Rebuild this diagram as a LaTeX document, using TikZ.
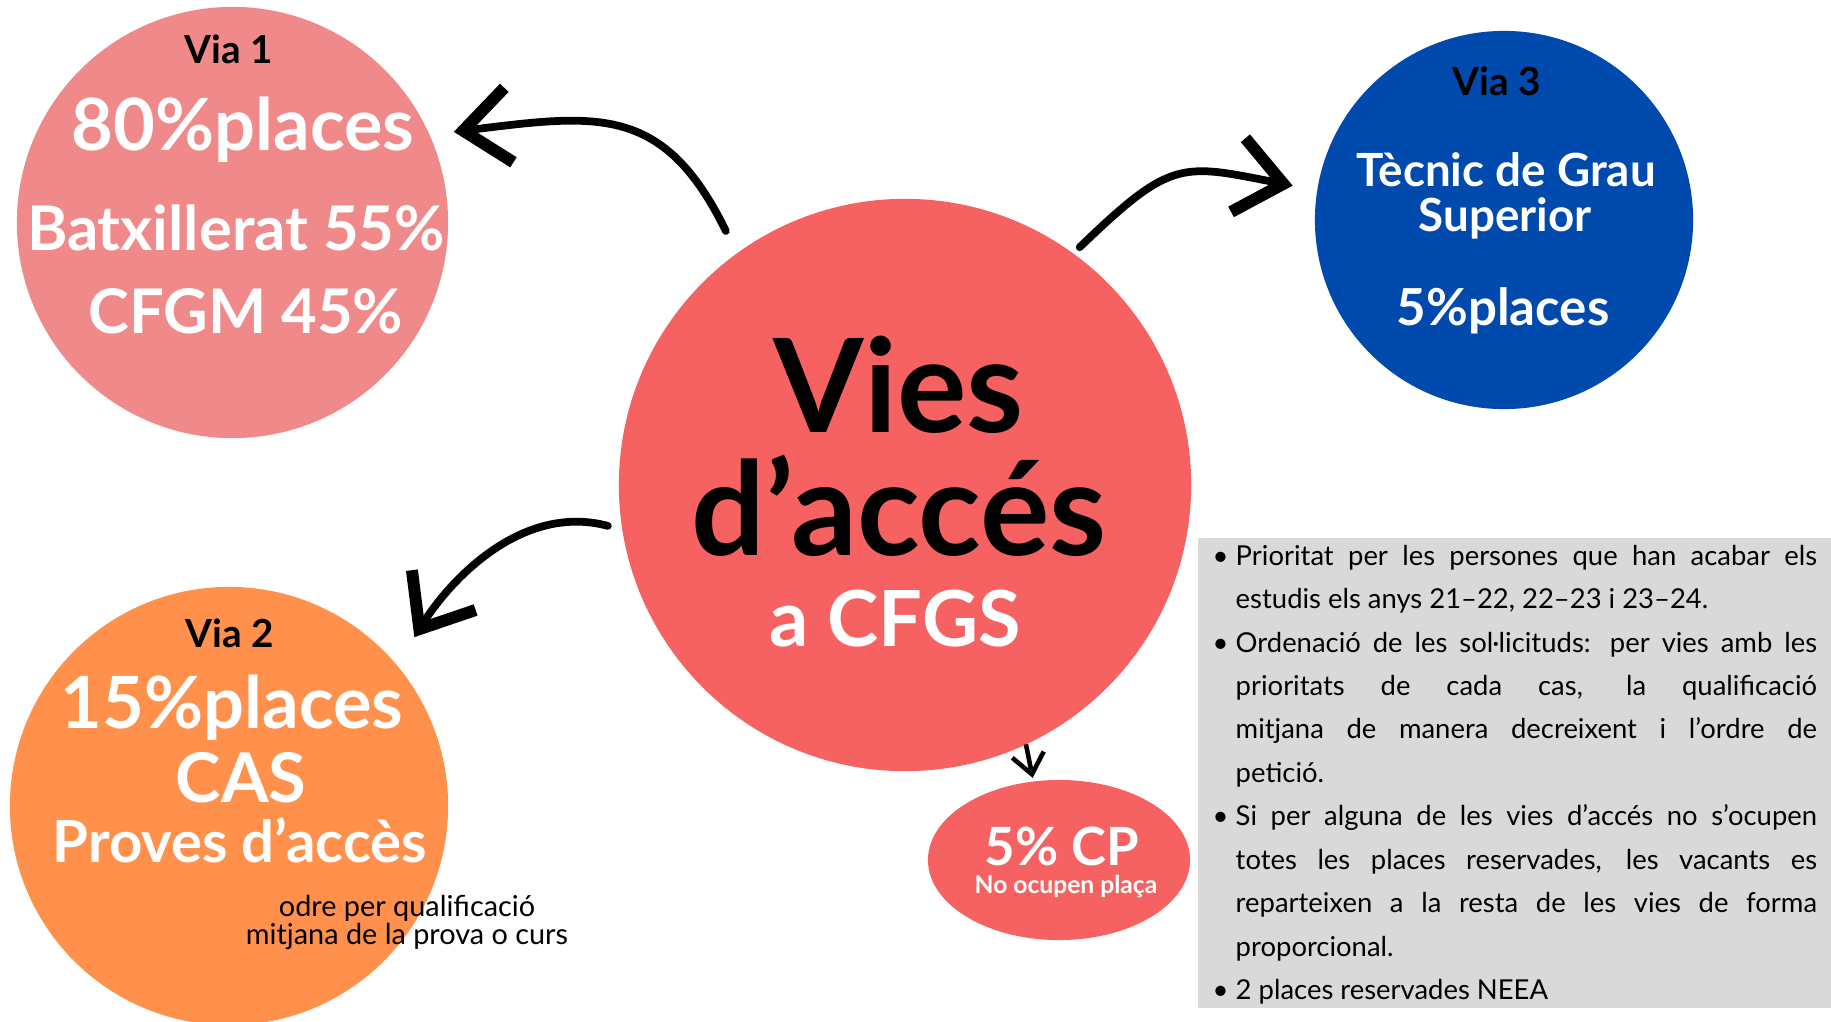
\documentclass[tikz,border=0pt]{standalone}
\usepackage{fontspec}
\setmainfont{Lato}
\usepackage{xcolor}
\usetikzlibrary{arrows.meta,shapes.geometric}
\definecolor{via1}{HTML}{F0898A}
\definecolor{vies}{HTML}{F66262}
\definecolor{via2}{HTML}{FF914D}
\definecolor{via3}{HTML}{004AAD}
\definecolor{nota}{HTML}{D9D9D9}
\newcommand{\fsz}[1]{\fontsize{#1}{#1}\selectfont}
\newcommand{\nitem}{\par\hangindent=0.23cm\hangafter=1\noindent\makebox[0.23cm][l]{\textbullet}}
\tikzset{
    CC/.style ={circle, inner sep=0pt, outer sep=0pt, minimum size=#1},
    VL/.style ={anchor=base, inner sep=0pt, font=\bfseries\fsz{11}},
    WT/.style ={anchor=base, inner sep=0pt, text=white, font=\bfseries\fsz{#1}},
    BT/.style ={anchor=base, inner sep=0pt, font=\fsz{#1}},
    BR/.style ={line width=2.2pt, line cap=round,
        -{Straight Barb[length=4.6mm,width=7.5mm,line width=3.4pt]}}
}

\begin{document}
\begin{tikzpicture}[x=0.01cm, y=0.01cm,
        TL/.style={anchor=base, inner sep=0pt, font=\bfseries\fsz{37}},
        thin arrow/.style={line width=1.3pt, -{Straight Barb[length=2mm,width=3.2mm]}}]
        \useasboundingbox (0,0) rectangle (1831,-1021);
        \clip (0,0) rectangle (1831,-1021);
        % circles
        \node[CC=5.72cm, fill=vies] (cv) at (905,-485) {};
        \node[CC=4.31cm, fill=via1] (v1) at (232.5,-222.5) {};
        \node[CC=3.78cm, fill=via3] (v3) at (1504,-220) {};
        \node[CC=4.38cm, fill=via2] (v2) at (229,-806) {};
        \node[ellipse, fill=vies, inner sep=0pt, minimum width=2.62cm, minimum height=1.6cm] (cp) at (1059,-860) {};
        % centre
        \node[TL] (t1) at (899,-432) {Vies};
        \node[TL] (t2) at (899,-555) {d’accés};
        \node[WT=22] (t3) at (895,-646) {a CFGS};
        % via 1
        \node[VL] (v1t) at (229,-63) {Via 1};
        \node[WT=20.5] (v1a) at (243,-150) {80\%places};
        \node[WT=17.5] (v1b) at (236,-250) {Batxillerat 55\%};
        \node[WT=17.5] (v1c) at (246,-333) {CFGM 45\%};
        % via 3
        \node[VL] (v3t) at (1497,-95) {Via 3};
        \node[WT=13] (v3a) at (1506,-186) {Tècnic de Grau};
        \node[WT=13] (v3b) at (1505,-231) {Superior};
        \node[WT=14.5] (v3c) at (1503,-325) {5\%places};
        % via 2
        \node[VL] (v2t) at (230,-647) {Via 2};
        \node[WT=20.5] (v2a) at (232,-728) {15\%places};
        \node[WT=19.5] (v2b) at (241,-802) {CAS};
        \node[WT=16.5] (v2c) at (240,-862) {Proves d’accès};
        \node[BT=8.2] (v2d) at (407,-916) {odre per qualificació};
        \node[BT=8.2] (v2e) at (407,-944) {mitjana de la prova o curs};
        % CP
        \node[WT=15] (cpa) at (1062,-865) {5\% CP};
        \node[WT=7] (cpb) at (1066,-893) {No ocupen plaça};
        % notes
        \node[fill=nota, anchor=north west, inner sep=0pt, minimum width=6.34cm, minimum height=4.7cm] (notebox) at (1197,-537) {};
        \node[anchor=north west, inner sep=0pt, text width=6.04cm, align=justify,
            font=\fontsize{7.8}{12.35}\selectfont] (notes) at (1212,-521) {%
            \nitem Prioritat per les persones que han acabar els\linebreak estudis els anys 21–22, 22–23 i 23–24.
            \nitem Ordenació de les sol·licituds: per vies amb les\linebreak prioritats de cada cas, la qualificació\linebreak mitjana de manera decreixent i l’ordre de\linebreak petició.
            \nitem Si per alguna de les vies d’accés no s’ocupen\linebreak totes les places reservades, les vacants es\linebreak reparteixen a la resta de les vies de forma\linebreak proporcional.
            \nitem 2 places reservades NEEA\par};
        % arrows
        \draw[BR, shorten <=0.25cm, shorten >=0.245cm] (cv.126) to[out=116, in=7, looseness=1.3] (v1.24);
        \draw[BR, shorten <=0.09cm, shorten >=0.25cm] (cv.54) to[out=44, in=169, looseness=1.4] (v3.171);
        \draw[BR, shorten <=0.15cm, shorten >=0.33cm] (cv.189) to[out=165, in=58] (v2.40);
        \draw[thin arrow, shorten >=0.03cm] (cv.-65) -- (cp.108);
    \end{tikzpicture}
\end{document}
